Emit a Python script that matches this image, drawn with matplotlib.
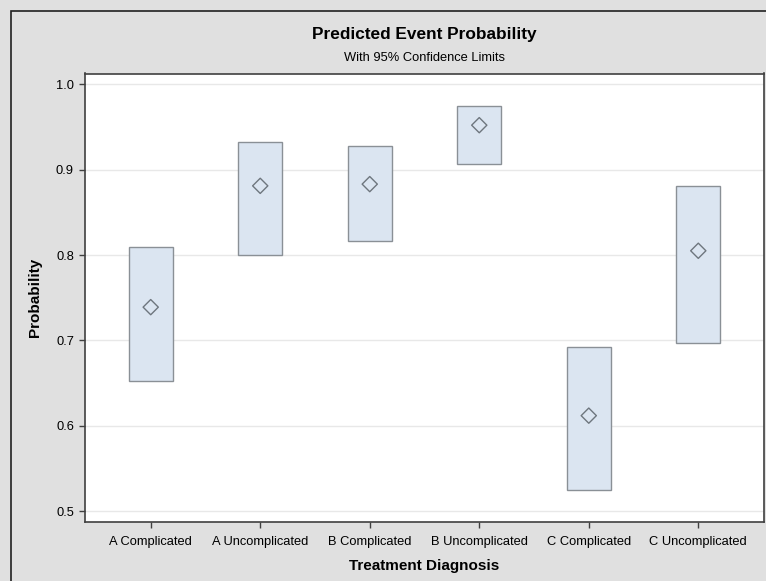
import matplotlib
matplotlib.use("Agg")
import matplotlib.pyplot as plt
from matplotlib.patches import Rectangle

plt.rcParams['font.family'] = ['Liberation Sans', 'DejaVu Sans']

categories = ["A Complicated", "A Uncomplicated", "B Complicated",
              "B Uncomplicated", "C Complicated", "C Uncomplicated"]
predicted = [0.739, 0.881, 0.883, 0.952, 0.612, 0.805]
lower = [0.653, 0.800, 0.816, 0.907, 0.525, 0.697]
upper = [0.809, 0.932, 0.928, 0.975, 0.692, 0.881]
yticks = [0.5, 0.6, 0.7, 0.8, 0.9, 1.0]

W, H = 766, 581
fig = plt.figure(figsize=(W / 100, H / 100), dpi=100)
fig.patch.set_facecolor('#e0e0e0')

# outer frame (left and top edges visible)
fig.add_artist(Rectangle((11 / W, -0.1), 2.0, 1.1 - 11 / H, transform=fig.transFigure,
                         fill=False, edgecolor='#202020', linewidth=1.2))

left, right, top, bottom = 85, 764, 73.5, 522
ax = fig.add_axes([left / W, (H - bottom) / H, (right - left) / W, (bottom - top) / H])
ax.set_facecolor('white')

x = list(range(len(categories)))
ax.bar(x, [u - l for u, l in zip(upper, lower)], bottom=lower, width=0.4,
       color='#dbe5f1', edgecolor='#8a9096', linewidth=1.0, zorder=3)
ax.scatter(x, predicted, marker='D', s=60, facecolors='none',
           edgecolors='#6e767e', linewidths=1.0, zorder=4)

ax.set_xlim(-0.6, len(categories) - 0.4)
ax.set_ylim(0.4875, 1.0125)
ax.set_yticks(yticks)
ax.set_yticklabels([f"{v:.1f}" for v in yticks])
ax.set_xticks(x)
ax.set_xticklabels(categories)
ax.grid(axis='y', color='#e8e8e8', linewidth=1.0, zorder=0)
ax.set_axisbelow(True)

for s in ax.spines.values():
    s.set_color('#404040')
    s.set_linewidth(1.2)
ax.tick_params(axis='both', direction='out', length=4, width=1, color='#404040',
               labelsize=9.3, labelcolor='black', pad=4)
ax.tick_params(axis='x', pad=6)

ax.set_xlabel("Treatment Diagnosis", fontsize=11, fontweight='bold', labelpad=8)
ax.set_ylabel("Probability", fontsize=11, fontweight='bold', labelpad=10)

cx = (left + right) / 2 / W
fig.text(cx, 1 - 35 / H, "Predicted Event Probability", ha='center', va='center',
         fontsize=12.4, fontweight='bold')
fig.text(cx, 1 - 58 / H, "With 95% Confidence Limits", ha='center', va='center',
         fontsize=9.3)

fig.savefig("out.png", dpi=100, facecolor=fig.get_facecolor())
